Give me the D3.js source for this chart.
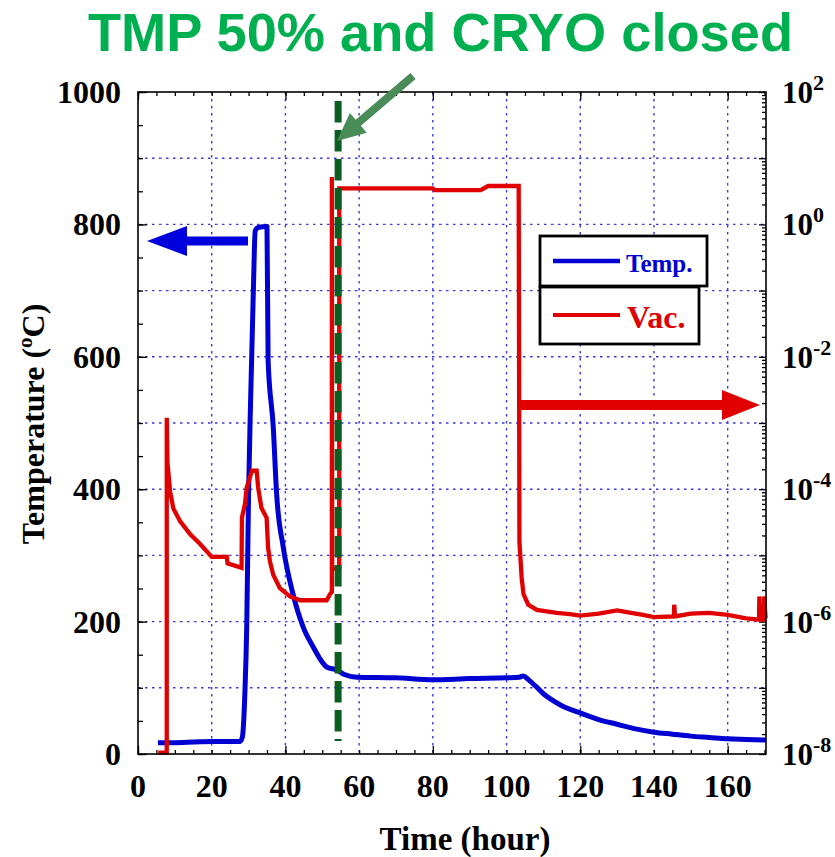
<!DOCTYPE html>
<html>
<head>
<meta charset="utf-8">
<script src="https://cdn.jsdelivr.net/npm/d3@7"></script>
<style>
  body { margin: 0; background: #fff; }
  svg { display: block; }
</style>
</head>
<body>
<svg id="chart" width="835" height="857"></svg>
<script>
// ---------------- DATA ----------------
const titleText = "TMP 50% and CRYO closed";
const xTickLabels = [0, 20, 40, 60, 80, 100, 120, 140, 160];
const leftTickLabels = [0, 200, 400, 600, 800, 1000];
const rightTickExponents = [2, 0, -2, -4, -6, -8];
const legendNames = ["Temp.", "Vac."];

// Temperature (deg C) vs time (hour)
const tempTime = [5.4, 10, 15, 20, 25, 27.7, 28.3, 29, 29.5, 30, 30.6, 31.3, 31.8, 32.5, 35, 35.3, 36.7, 37.6, 39.4, 42, 44.8, 47.5, 51.3, 54, 56, 59.4, 70, 80, 90, 100, 103.5, 104.5, 106, 108, 110, 112, 115, 120, 125, 130, 135, 140, 145, 150, 155, 160, 165, 170.3];
const tempVal  = [17, 17, 18, 19, 19, 19, 25, 92, 192, 394, 545, 700, 790, 795, 797, 595, 494, 394, 313, 243, 192, 162, 131, 127, 120, 116, 115, 112, 114, 115, 116, 118, 112, 102, 91, 83, 73, 62, 52, 45, 38, 33, 30, 27, 25, 23, 22, 21];

// Vacuum pressure vs time (hour)
const vacTime = [5.5, 7.8, 7.8, 8.0, 8.2, 8.7, 9.6, 11.4, 14.1, 16.8, 20, 24.1, 24.3, 28.1, 28.2, 29, 29.5, 30.9, 32.2, 32.6, 33.5, 34.9, 35.3, 35.8, 36.7, 38.5, 41.2, 44, 51.2, 52.1, 52.6, 52.6, 52.7, 54.6, 54.6, 56, 80, 80.5, 93, 95, 103.3, 103.5, 104.1, 104.6, 105.9, 108.2, 113.6, 117.2, 120, 125, 130, 133, 137, 140, 145.4, 145.5, 145.7, 150, 155, 160, 165, 168.5, 168.6, 168.8, 169.8, 169.9, 170.3];
const vacVal  = [1.05e-8, 1.05e-8, 1.2e-3, 2.5e-4, 1.9e-4, 9.3e-5, 5.1e-5, 3.3e-5, 2.1e-5, 1.5e-5, 9.5e-6, 9.5e-6, 7.6e-6, 6.5e-6, 3.7e-5, 5.9e-5, 1.05e-4, 1.9e-4, 1.9e-4, 1.05e-4, 5.2e-5, 3.7e-5, 1.3e-5, 8.1e-6, 5.1e-6, 3.2e-6, 2.4e-6, 2.1e-6, 2.1e-6, 2.6e-6, 2.8e-6, 5.2, 6.3e-6, 6.3e-6, 3.5, 3.5, 3.5, 3.3, 3.3, 3.8, 3.8, 1.6e-5, 4.6e-6, 2.6e-6, 1.8e-6, 1.5e-6, 1.35e-6, 1.3e-6, 1.23e-6, 1.32e-6, 1.48e-6, 1.38e-6, 1.26e-6, 1.17e-6, 1.2e-6, 1.8e-6, 1.2e-6, 1.32e-6, 1.35e-6, 1.26e-6, 1.12e-6, 1.07e-6, 2.4e-6, 1.07e-6, 1.07e-6, 2.4e-6, 1.12e-6];

// Event marker time (TMP 50% and CRYO closed)
const eventTime = [54.3];

// ---------------- LAYOUT ----------------
const svg = d3.select("#chart");
const L = 138, R = 766, T = 92, B = 754;
const serif = "'Liberation Serif', 'Times New Roman', serif";
const blue = "#0000d2", red = "#e00000";

const x = d3.scaleLinear().domain([0, 170.4]).range([L, R]);
const yL = d3.scaleLinear().domain([0, 1000]).range([B, T]);
const yR = d3.scaleLog().domain([1e-8, 1e2]).range([B, T]);

// Title
svg.append("text")
  .attr("x", 88).attr("y", 51)
  .attr("font-family", "'Liberation Sans', Arial, sans-serif")
  .attr("font-weight", "bold").attr("font-size", 54)
  .attr("fill", "#00b050")
  .attr("textLength", 705).attr("lengthAdjust", "spacingAndGlyphs")
  .text(titleText);

// Grid
const grid = svg.append("g").attr("stroke", "#3a3ad6").attr("stroke-width", 1.4)
  .attr("stroke-dasharray", "2.5,4.5").attr("fill", "none");
d3.range(20, 170, 20).forEach(v => {
  grid.append("line").attr("x1", x(v)).attr("x2", x(v)).attr("y1", T).attr("y2", B);
});
d3.range(100, 1000, 100).forEach(v => {
  grid.append("line").attr("x1", L).attr("x2", R).attr("y1", yL(v)).attr("y2", yL(v));
});

// Axes ticks (inward)
function tickAxis(axis, transform) {
  const g = svg.append("g").attr("transform", transform).call(axis);
  g.selectAll("text").remove();
  g.select(".domain").remove();
  g.selectAll("line").attr("stroke", "#000").attr("stroke-width", 1.3);
  return g;
}
tickAxis(d3.axisBottom(x).tickValues(d3.range(0, 171, 5)).tickSize(-4), `translate(0,${B})`);
tickAxis(d3.axisBottom(x).tickValues(d3.range(0, 171, 40)).tickSize(-8), `translate(0,${B})`);
tickAxis(d3.axisTop(x).tickValues(d3.range(0, 171, 5)).tickSize(-4), `translate(0,${T})`);
tickAxis(d3.axisTop(x).tickValues(d3.range(0, 171, 40)).tickSize(-8), `translate(0,${T})`);
tickAxis(d3.axisLeft(yL).tickValues(d3.range(0, 1001, 50)).tickSize(-5), `translate(${L},0)`);
tickAxis(d3.axisLeft(yL).tickValues(d3.range(0, 1001, 200)).tickSize(-9), `translate(${L},0)`);
const minorLog = [];
for (let e = -8; e < 2; e++) for (let m = 2; m <= 9; m++) minorLog.push(m * Math.pow(10, e));
const decades = d3.range(-8, 3).map(e => Math.pow(10, e));
tickAxis(d3.axisRight(yR).tickValues(minorLog).tickSize(-4), `translate(${R},0)`);
tickAxis(d3.axisRight(yR).tickValues(decades).tickSize(-7), `translate(${R},0)`);

// Data lines
const tempData = tempTime.map((t, i) => [t, tempVal[i]]);
const vacData = vacTime.map((t, i) => [t, vacVal[i]]);
svg.append("path").datum(tempData)
  .attr("d", d3.line().x(d => x(d[0])).y(d => yL(d[1])).curve(d3.curveMonotoneX))
  .attr("fill", "none").attr("stroke", blue).attr("stroke-width", 5)
  .attr("stroke-linejoin", "round");
svg.append("path").datum(vacData)
  .attr("d", d3.line().x(d => x(d[0])).y(d => yR(d[1])))
  .attr("fill", "none").attr("stroke", red).attr("stroke-width", 4.3)
  .attr("stroke-linejoin", "miter");

// Frame
svg.append("rect").attr("x", L).attr("y", T).attr("width", R - L).attr("height", B - T)
  .attr("fill", "none").attr("stroke", "#000").attr("stroke-width", 1.6);

// Tick labels
const lbl = svg.append("g").attr("font-family", serif).attr("font-weight", "bold").attr("fill", "#000");
xTickLabels.forEach(v => {
  lbl.append("text").attr("x", x(v)).attr("y", 797).attr("text-anchor", "middle")
    .attr("font-size", 32).text(v);
});
leftTickLabels.forEach(v => {
  lbl.append("text").attr("x", 121).attr("y", yL(v) + 11).attr("text-anchor", "end")
    .attr("font-size", 32).text(v);
});
rightTickExponents.forEach(e => {
  const t = lbl.append("text").attr("x", 782).attr("y", yR(Math.pow(10, e)) + 11).attr("font-size", 31);
  t.append("tspan").text("10");
  t.append("tspan").attr("dy", -13).attr("font-size", 22).text(String(e));
});

// Axis titles
lbl.append("text").attr("x", 465).attr("y", 850).attr("text-anchor", "middle")
  .attr("font-size", 33).text("Time (hour)");
const yt = lbl.append("text").attr("transform", "translate(44,424) rotate(-90)")
  .attr("text-anchor", "middle").attr("font-size", 32);
yt.append("tspan").text("Temperature (");
yt.append("tspan").attr("dy", -12).attr("font-size", 21).text("o");
yt.append("tspan").attr("dy", 12).text("C)");

// Legend
const lg = svg.append("g");
lg.append("rect").attr("x", 540).attr("y", 236).attr("width", 167).attr("height", 50)
  .attr("fill", "#fff").attr("stroke", "#000").attr("stroke-width", 2.8);
lg.append("rect").attr("x", 540).attr("y", 287).attr("width", 159).attr("height", 57)
  .attr("fill", "#fff").attr("stroke", "#000").attr("stroke-width", 2.8);
lg.append("line").attr("x1", 553).attr("x2", 620).attr("y1", 261).attr("y2", 261)
  .attr("stroke", blue).attr("stroke-width", 4.5);
lg.append("line").attr("x1", 553).attr("x2", 620).attr("y1", 315).attr("y2", 315)
  .attr("stroke", red).attr("stroke-width", 4);
lg.append("text").attr("x", 626).attr("y", 272).attr("font-family", serif).attr("font-weight", "bold")
  .attr("font-size", 25).attr("fill", blue).text(legendNames[0]);
lg.append("text").attr("x", 627).attr("y", 328).attr("font-family", serif).attr("font-weight", "bold")
  .attr("font-size", 32).attr("fill", red).text(legendNames[1]);

// Event dashed line
svg.append("line").attr("x1", x(eventTime[0])).attr("x2", x(eventTime[0]))
  .attr("y1", 101).attr("y2", 741)
  .attr("stroke", "#0b5e1f").attr("stroke-width", 7).attr("stroke-dasharray", "21.5,7.5");

// Arrows
function arrow(x0, y0, x1, y1, shaftW, headL, headW, color) {
  const dx = x1 - x0, dy = y1 - y0, len = Math.hypot(dx, dy);
  const ux = dx / len, uy = dy / len, px = -uy, py = ux;
  const bx = x1 - ux * headL, by = y1 - uy * headL;
  const pts = [
    [x0 + px * shaftW / 2, y0 + py * shaftW / 2],
    [bx + px * shaftW / 2, by + py * shaftW / 2],
    [bx + px * headW / 2, by + py * headW / 2],
    [x1, y1],
    [bx - px * headW / 2, by - py * headW / 2],
    [bx - px * shaftW / 2, by - py * shaftW / 2],
    [x0 - px * shaftW / 2, y0 - py * shaftW / 2]
  ];
  svg.append("polygon").attr("points", pts.map(p => p.join(",")).join(" ")).attr("fill", color);
}
arrow(248, 241, 147, 241, 9, 40, 30, "#0000dd");
arrow(518, 405, 760, 405, 10, 38, 30, "#e00000");
arrow(413, 76, 337, 141, 8, 28, 26, "#4a8c57");
</script>
</body>
</html>
